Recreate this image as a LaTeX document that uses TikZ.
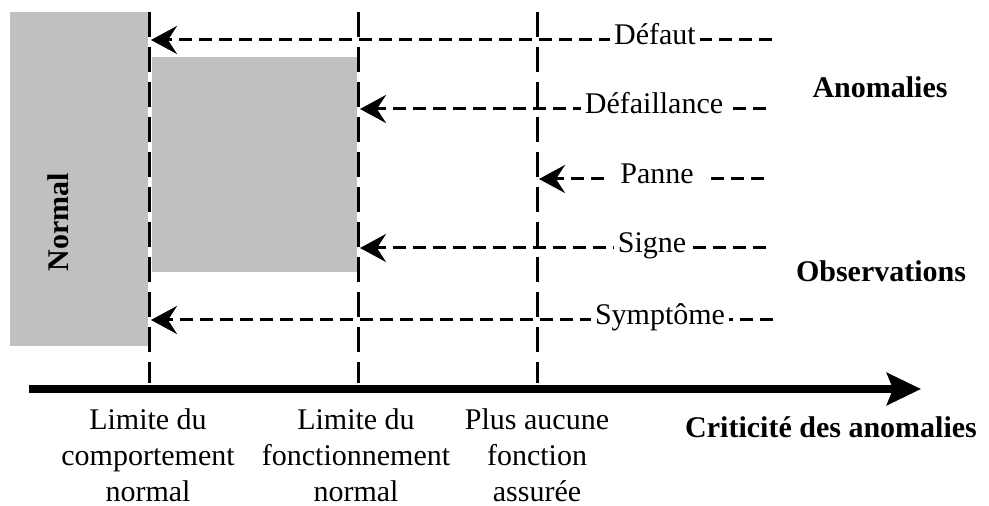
\documentclass[tikz,border=0pt]{standalone}
\usepackage{fontspec}
\setmainfont{Liberation Serif}
\usetikzlibrary{arrows.meta}
\definecolor{boxgray}{RGB}{192,192,192}
\begin{document}
\begin{tikzpicture}[x=0.5pt,y=-0.5pt,
  font=\fontsize{15}{18}\selectfont,
  region/.style={fill=boxgray,draw=none},
  limit/.style={line width=1.5pt,dash pattern=on 12.5pt off 5pt},
  flow/.style={line width=1.5pt,dash pattern=on 6.5pt off 3.5pt,-{Stealth[length=13pt,width=14pt,inset=4.5pt]}},
  lbl/.style={fill=white,inner xsep=2pt,inner ysep=1pt,anchor=base},
  cat/.style={font=\fontsize{15}{18}\selectfont\bfseries,anchor=base},
  axislbl/.style={align=center,anchor=north,inner sep=0pt}]
\useasboundingbox (0,0) rectangle (989,506);
% grey regions
\fill[region] (10,12) rectangle (148,346);
\fill[region] (152,57) rectangle (357,272);
\node[rotate=90,font=\fontsize{15}{18}\selectfont\bfseries] (normal) at (58,222) {Normal};
% limits
\coordinate (t1) at (149,12); \coordinate (b1) at (149,383);
\coordinate (t2) at (358,12); \coordinate (b2) at (358,383);
\coordinate (t3) at (537,12); \coordinate (b3) at (537,383);
\draw[limit] (t1) -- (b1);
\draw[limit] (t2) -- (b2);
\draw[limit] (t3) -- (b3);
% axis
\coordinate (ax0) at (29,389); \coordinate (ax1) at (921,389);
\draw[line width=4pt,-{Stealth[length=17pt,width=16pt,inset=3pt]}] (ax0) -- (ax1);
% flows
\coordinate (eD) at (772,40);  \coordinate (aD) at (151,40);
\coordinate (eF) at (766,109); \coordinate (aF) at (360,109);
\coordinate (eP) at (764,179); \coordinate (aP) at (539,179);
\coordinate (eS) at (766,248); \coordinate (aS) at (360,248);
\coordinate (eY) at (773,320); \coordinate (aY) at (151,320);
\draw[flow] (eD) -- (aD);
\draw[flow] (eF) -- (aF);
\draw[flow] (eP) -- (aP);
\draw[flow] (eS) -- (aS);
\draw[flow] (eY) -- (aY);
\node[lbl] (lD) at (655,45) {Défaut};
\node[lbl] (lF) at (654,114) {Défaillance};
\node[lbl,inner xsep=5pt] (lP) at (657,184) {Panne};
\node[lbl] (lS) at (652,253) {Signe};
\node[lbl] (lY) at (660,325) {Symptôme};
% category labels
\node[cat] (anom) at (880,98) {Anomalies};
\node[cat] (obs) at (881,282) {Observations};
\node[cat] (crit) at (831,438) {Criticité des anomalies};
% axis labels
\node[axislbl] (L1) at (148,408) {Limite du\\comportement\\normal};
\node[axislbl] (L2) at (356,408) {Limite du\\fonctionnement\\normal};
\node[axislbl] (L3) at (537,408) {Plus aucune\\fonction\\assurée};
\end{tikzpicture}
\end{document}
